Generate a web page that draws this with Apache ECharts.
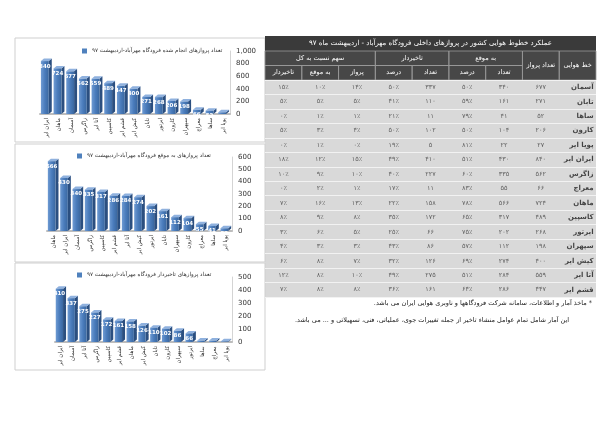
<!DOCTYPE html>
<html>
<head>
    <meta charset="utf-8">
    <title>عملکرد خطوط هوایی - مهرآباد</title>
    <script src="https://cdn.jsdelivr.net/npm/echarts@6/dist/echarts.min.js"></script>
    <style>
        body { margin: 0; background: #fff; }
    </style>
</head>
<body>
<div id="main" dir="rtl" style="width:600px;height:424px"></div>
<script type="text/javascript">

    // جدول - به ترتیب ردیف‌ها
    var airlines = ['آسمان', 'تابان', 'ساها', 'کارون', 'پویا ایر', 'ایران ایر', 'زاگرس', 'معراج',
        'ماهان', 'کاسپین', 'ایرتور', 'سپهران', 'کیش ایر', 'آتا ایر', 'قشم ایر'];
    var flights      = [677, 271, 52, 206, 27, 840, 562, 66, 724, 489, 268, 198, 400, 559, 447];
    var onTimeCount  = [340, 161, 41, 104, 22, 430, 335, 55, 566, 317, 202, 112, 274, 284, 286];
    var onTimePct    = [50, 59, 79, 50, 81, 51, 60, 83, 78, 65, 75, 57, 69, 51, 64];
    var delayedCount = [337, 110, 11, 102, 5, 410, 227, 11, 158, 172, 66, 86, 126, 275, 161];
    var delayedPct   = [50, 41, 21, 50, 19, 49, 40, 17, 22, 35, 25, 43, 32, 49, 36];
    var shareFlights = [14, 5, 1, 4, 0, 15, 10, 1, 13, 8, 5, 3, 7, 10, 8];
    var shareOnTime  = [10, 5, 1, 3, 1, 12, 9, 2, 16, 9, 6, 3, 8, 8, 8];
    var shareDelayed = [15, 5, 0, 5, 0, 18, 10, 0, 7, 8, 3, 4, 6, 12, 7];

    var tableTitle = 'عملکرد خطوط هوایی کشور در پروازهای داخلی فرودگاه مهرآباد - اردیبهشت ماه ۹۷';
    var chartNames = [
        'تعداد پروازهای انجام شده فرودگاه مهرآباد-اردیبهشت ۹۷',
        'تعداد پروازهای به موقع فرودگاه مهرآباد-اردیبهشت ۹۷',
        'تعداد پروازهای تاخیردار فرودگاه مهرآباد-اردیبهشت ۹۷'
    ];
    var yMax = [1000, 600, 500];
    var yStep = [200, 100, 100];

    var FONT = '"DejaVu Sans", sans-serif';

    function fa(n) {
        return String(n).replace(/\d/g, function (d) { return '۰۱۲۳۴۵۶۷۸۹'[d]; });
    }

    // نمودارها: مرتب شده نزولی
    function sortedBy(values) {
        var idx = values.map(function (v, i) { return i; });
        idx.sort(function (a, b) { return values[b] - values[a]; });
        return {
            names: idx.map(function (i) { return airlines[i]; }),
            values: idx.map(function (i) { return values[i]; })
        };
    }
    var charts = [sortedBy(flights), sortedBy(onTimeCount), sortedBy(delayedCount)];

    var myChart = echarts.init(document.getElementById('main'));

    // ستون‌های جدول از راست به چپ
    function pct(v) { return fa(v) + '٪'; }
    var tableCols = [
        airlines, flights.map(fa), onTimeCount.map(fa), onTimePct.map(pct),
        delayedCount.map(fa), delayedPct.map(pct),
        shareFlights.map(pct), shareOnTime.map(pct), shareDelayed.map(pct)
    ];
    var cells = [], nameCells = [];
    tableCols.forEach(function (col, c) {
        col.forEach(function (txt, r) {
            (c === 0 ? nameCells : cells).push([c, r, txt]);
        });
    });

    var tLeft = 265, tRight = 596, tTop = 80, tBottom = 297;
    var cw = (tRight - tLeft) / 9;
    function colX(i) { return tRight - (i + 1) * cw; }

    var gridBoxes = [
        {left: 40, top: 51, width: 190, height: 63},
        {left: 47, top: 157, width: 185, height: 74},
        {left: 55, top: 277, width: 177, height: 65}
    ];
    var legendPos = [{left: 82, top: 48}, {left: 77, top: 153}, {left: 77, top: 272}];

    function bar3d(params, api) {
        var i = api.value(0), v = api.value(1);
        var top = api.coord([i, v]), base = api.coord([i, 0]);
        var w = api.size([1, 0])[0] * 0.62;
        var dx = 3, dy = -2.5;
        var l = top[0] - w / 2 - dx / 2, r = l + w;
        return {
            type: 'group',
            children: [
                {type: 'polygon', shape: {points: [[r, top[1]], [r + dx, top[1] + dy], [r + dx, base[1] + dy], [r, base[1]]]},
                    style: {fill: '#2b4f80'}},
                {type: 'polygon', shape: {points: [[l, top[1]], [l + dx, top[1] + dy], [r + dx, top[1] + dy], [r, top[1]]]},
                    style: {fill: '#8fb1de'}},
                {type: 'rect', shape: {x: l, y: top[1], width: w, height: base[1] - top[1]},
                    style: {fill: new echarts.graphic.LinearGradient(0, 0, 1, 0, [
                        {offset: 0, color: '#6f9bd3'}, {offset: 0.5, color: '#4a7cbc'}, {offset: 1, color: '#3a679f'}])}},
                {type: 'text', style: {text: String(v), x: l + w / 2, y: top[1] + 2, align: 'center', verticalAlign: 'top',
                    fill: '#fff', fontSize: 5.5, fontWeight: 'bold', fontFamily: FONT}}
            ]
        };
    }

    var grids = [], xAxes = [], yAxes = [], series = [], legends = [];
    charts.forEach(function (ch, k) {
        grids.push(gridBoxes[k]);
        xAxes.push({
            type: 'category', gridIndex: k, data: ch.names,
            axisTick: {show: false},
            axisLine: {lineStyle: {color: '#bdbdbd', width: 2}},
            axisLabel: {interval: 0, rotate: 90, fontSize: 5.5, color: '#333', fontFamily: FONT, margin: 4}
        });
        yAxes.push({
            type: 'value', gridIndex: k, position: 'right', min: 0, max: yMax[k], interval: yStep[k],
            splitLine: {show: false},
            axisLine: {show: true, lineStyle: {color: '#d4d4d4'}},
            axisLabel: {fontSize: 7, color: '#333', fontFamily: FONT, margin: 6,
                formatter: function (v) { return v.toLocaleString('en-US'); }}
        });
        series.push({
            type: 'custom', name: chartNames[k], xAxisIndex: k, yAxisIndex: k,
            itemStyle: {color: '#4f81bd'},
            renderItem: bar3d,
            data: ch.values.map(function (v, i) { return [i, v]; })
        });
        legends.push({
            data: [chartNames[k]], left: legendPos[k].left, top: legendPos[k].top,
            icon: 'rect', itemWidth: 5, itemHeight: 5, itemGap: 4, padding: 0,
            textStyle: {fontSize: 5.6, color: '#333', fontFamily: FONT}
        });
    });

    // جدول
    grids.push({left: tLeft, top: tTop, width: tRight - tLeft, height: tBottom - tTop,
        show: true, backgroundColor: '#d9d9d9', borderWidth: 0});
    xAxes.push({type: 'category', gridIndex: 3, inverse: true, data: tableCols.map(function (c, i) { return i; }),
        show: false});
    yAxes.push({type: 'category', gridIndex: 3, inverse: true, data: airlines,
        axisLine: {show: false}, axisTick: {show: false}, axisLabel: {show: false},
        splitLine: {show: true, interval: 0, lineStyle: {color: '#f2f2f2', width: 1}}});
    series.push({
        type: 'scatter', xAxisIndex: 3, yAxisIndex: 3, symbolSize: 0, data: cells, silent: true,
        label: {show: true, position: 'inside', fontSize: 6.5, color: '#444', fontFamily: FONT,
            formatter: function (p) { return p.value[2]; }}
    });
    series.push({
        type: 'scatter', xAxisIndex: 3, yAxisIndex: 3, symbolSize: 0, data: nameCells, silent: true,
        label: {show: true, position: 'inside', fontSize: 7, fontWeight: 'bold', color: '#1a1a1a', fontFamily: FONT,
            align: 'right', offset: [16, 0], formatter: function (p) { return p.value[2]; }}
    });

    // کادرها و سربرگ جدول
    var gfx = [];
    [[15, 38, 250, 104], [15, 144, 250, 118], [15, 263, 250, 107]].forEach(function (b) {
        gfx.push({type: 'rect', shape: {x: b[0], y: b[1], width: b[2], height: b[3]},
            style: {fill: 'none', stroke: '#cfcfcf', lineWidth: 1}});
    });
    gfx.push({type: 'rect', shape: {x: tLeft, y: 36, width: tRight - tLeft, height: 15}, style: {fill: '#3a3a3a'}});
    gfx.push({type: 'text', x: (tLeft + tRight) / 2, y: 43.5, style: {text: tableTitle, fill: '#fff', fontSize: 7,
        fontFamily: FONT, align: 'center', verticalAlign: 'middle'}});
    gfx.push({type: 'rect', shape: {x: tLeft, y: 51, width: tRight - tLeft, height: 29}, style: {fill: '#474747'}});
    var h1 = 51, h2 = 65.5, h3 = 80;
    var headCells = [
        [0, 1, h1, h3, 'خط هوایی'], [1, 1, h1, h3, 'تعداد پرواز'],
        [2, 2, h1, h2, 'به موقع'], [4, 2, h1, h2, 'تاخیردار'], [6, 3, h1, h2, 'سهم نسبت به کل'],
        [2, 1, h2, h3, 'تعداد'], [3, 1, h2, h3, 'درصد'], [4, 1, h2, h3, 'تعداد'], [5, 1, h2, h3, 'درصد'],
        [6, 1, h2, h3, 'پرواز'], [7, 1, h2, h3, 'به موقع'], [8, 1, h2, h3, 'تاخیردار']
    ];
    headCells.forEach(function (h) {
        var x0 = colX(h[0] + h[1] - 1), x1 = colX(h[0]) + cw;
        gfx.push({type: 'rect', shape: {x: x0, y: h[2], width: x1 - x0, height: h[3] - h[2]},
            style: {fill: 'none', stroke: '#9b9b9b', lineWidth: 0.8}});
        gfx.push({type: 'text', x: (x0 + x1) / 2, y: (h[2] + h[3]) / 2, style: {text: h[4], fill: '#fff',
            fontSize: 6.5, fontFamily: FONT, align: 'center', verticalAlign: 'middle'}});
    });
    gfx.push({type: 'text', x: 592, y: 303, style: {text: '* ماخذ آمار و اطلاعات، سامانه شرکت فرودگاهها و ناوبری هوایی ایران می باشد.',
        fill: '#222', fontSize: 6.5, fontFamily: FONT, align: 'right', verticalAlign: 'middle'}});
    gfx.push({type: 'text', x: 432, y: 320, style: {text: 'این آمار شامل تمام عوامل منشاء تاخیر از جمله تغییرات جوی، عملیاتی، فنی، تسهیلاتی و ... می باشد.',
        fill: '#222', fontSize: 6.5, fontFamily: FONT, align: 'center', verticalAlign: 'middle'}});

    myChart.setOption({
        animation: false,
        backgroundColor: '#fff',
        textStyle: {fontFamily: FONT},
        grid: grids,
        xAxis: xAxes,
        yAxis: yAxes,
        legend: legends,
        series: series,
        graphic: gfx
    });
</script>
</body>
</html>
